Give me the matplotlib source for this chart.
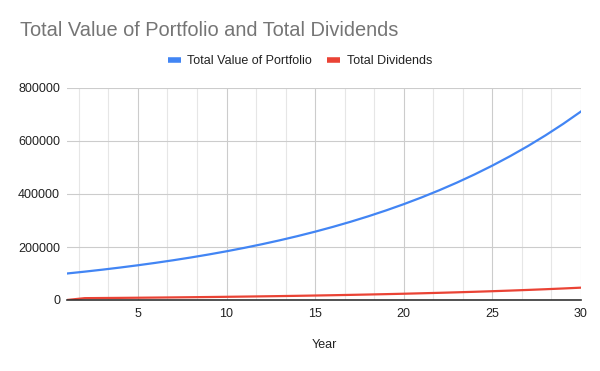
import matplotlib
matplotlib.use('Agg')
import matplotlib.pyplot as plt
from matplotlib.lines import Line2D
from matplotlib.ticker import MultipleLocator, FuncFormatter

plt.rcParams['font.family'] = ['Liberation Sans', 'DejaVu Sans']

# data
years = list(range(1, 31))
portfolio = [100000, 107000, 114490, 122504, 131080, 140255, 150073, 160578, 171819, 183846,
             196715, 210485, 225219, 240985, 257853, 275903, 295216, 315882, 337993, 361653,
             386968, 414056, 443040, 474053, 507237, 542743, 580735, 621387, 664884, 711426]
dividends = [0, 7000, 7490, 8014, 8575, 9176, 9818, 10505, 11240, 12027,
             12869, 13770, 14734, 15765, 16869, 18050, 19313, 20665, 22112, 23660,
             25316, 27088, 28984, 31013, 33184, 35507, 37992, 40651, 43497, 46542]
series_names = ['Total Value of Portfolio', 'Total Dividends']
colors = ['#4285F4', '#EA4335']

fig = plt.figure(figsize=(6, 3.71), dpi=100)
ax = fig.add_axes([67/600, 1-300/371, 514/600, 212/371])

ax.plot(years, portfolio, color=colors[0], lw=1.6, zorder=3)
ax.plot(years, dividends, color=colors[1], lw=1.6, zorder=3)

ax.set_xlim(1, 30)
ax.set_ylim(0, 800000)
ax.set_xticks([5, 10, 15, 20, 25, 30])
ax.xaxis.set_minor_locator(MultipleLocator(5/3))
ax.set_yticks([0, 200000, 400000, 600000, 800000])
ax.yaxis.set_major_formatter(FuncFormatter(lambda v, p: f'{int(v)}'))

ax.grid(which='major', color='#cccccc', lw=0.8, zorder=0)
ax.grid(which='minor', axis='x', color='#e6e6e6', lw=0.8, zorder=0)
for s in ['top', 'right', 'left']:
    ax.spines[s].set_visible(False)
ax.spines['bottom'].set_color('#333333')
ax.spines['bottom'].set_linewidth(1.2)
ax.spines['bottom'].set_zorder(4)
ax.tick_params(which='both', length=0, labelsize=9, colors='#222222')
ax.tick_params(axis='x', pad=6)
ax.tick_params(axis='y', pad=5)

fig.text(20/600, 1-30/371, 'Total Value of Portfolio and Total Dividends',
         fontsize=14.4, color='#757575', ha='left', va='center')
fig.text(324/600, 1-345/371, 'Year', fontsize=9, color='#222222', ha='center', va='center')

handles = [Line2D([], [], color=c, lw=4, solid_capstyle='butt') for c in colors]
fig.legend(handles, series_names, loc='center', bbox_to_anchor=(0.5, 1-61/371), ncol=2,
           frameon=False, fontsize=9, handlelength=1.05, handletextpad=0.5, columnspacing=1.2,
           labelcolor='#222222')

fig.savefig('out.png', dpi=100)
